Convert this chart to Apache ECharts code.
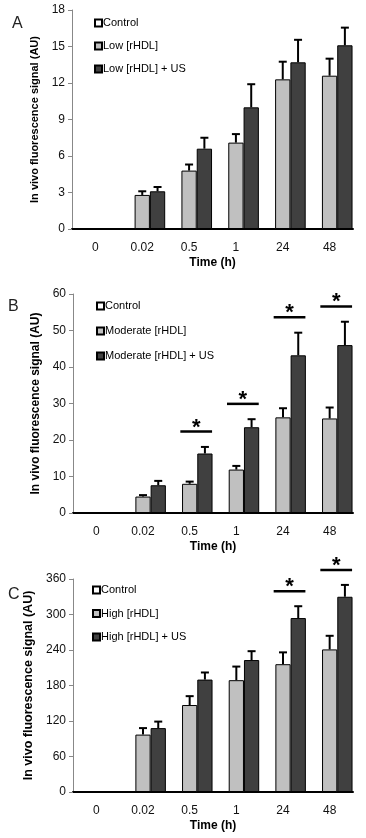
<!DOCTYPE html>
<html>
<head>
<meta charset="utf-8">
<script src="https://cdn.jsdelivr.net/npm/echarts@6/dist/echarts.min.js"></script>
<style>
html,body{margin:0;padding:0;background:#fff;}
#chart{width:366px;height:838px;}
</style>
</head>
<body>
<div id="chart"></div>
<script>
// ---- data ----
const categories = ['0', '0.02', '0.5', '1', '24', '48'];

const controlMean = [0, 0, 0, 0, 0, 0];

// Panel A
const lowMean   = [0, 2.8, 4.8, 7.1, 12.3, 12.6];
const lowErr    = [0, 0.3, 0.5, 0.7, 1.45, 1.4];
const lowUsMean = [0, 3.1, 6.6, 10.0, 13.7, 15.1];
const lowUsErr  = [0, 0.35, 0.9, 1.9, 1.85, 1.45];
const ticksA = { max: 18, interval: 3 };

// Panel B
const modMean   = [0, 4.5, 8.0, 11.9, 26.2, 25.9];
const modErr    = [0, 0.4, 0.6, 1.0, 2.5, 3.0];
const modUsMean = [0, 7.6, 16.3, 23.5, 43.2, 46.0];
const modUsErr  = [0, 1.2, 1.8, 2.2, 6.2, 6.4];
const sigB = ['0.5', '1', '24', '48'];
const ticksB = { max: 60, interval: 10 };

// Panel C
const highMean   = [0, 97, 147, 189, 216, 241];
const highErr    = [0, 11, 15, 23, 20, 23];
const highUsMean = [0, 108, 190, 223, 294, 330];
const highUsErr  = [0, 11, 12, 15, 20, 20];
const sigC = ['24', '48'];
const ticksC = { max: 360, interval: 60 };

// ---- styles ----
const FONT = "'Liberation Sans', Arial, sans-serif";
const LIGHT = '#c0c0c0';
const DARK = '#404040';

function barSeries(name, data, color, idx) {
  return {
    type: 'bar', name: name, data: data,
    xAxisIndex: idx, yAxisIndex: idx,
    barGap: '0%', barCategoryGap: '2%',
    itemStyle: { color: color, borderColor: '#000', borderWidth: 1 },
    emphasis: { disabled: true },
    animation: false
  };
}

function errSeries(mean, err, idx, slot) {
  return {
    type: 'custom', xAxisIndex: idx, yAxisIndex: idx, z: 5,
    silent: true, animation: false, clip: false,
    data: mean.map((m, i) => [i, m, err[i]]),
    renderItem: function (params, api) {
      if (api.value(2) <= 0) return null;
      const band = api.size([1, 0])[0] * 0.98;
      const p0 = api.coord([api.value(0), api.value(1)]);
      const p1 = api.coord([api.value(0), api.value(1) + api.value(2)]);
      const x = p0[0] + slot * band / 3;
      const style = { stroke: '#000', lineWidth: 2 };
      return {
        type: 'group',
        children: [
          { type: 'line', shape: { x1: x, y1: p0[1], x2: x, y2: p1[1] }, style: style },
          { type: 'line', shape: { x1: x - 4, y1: p1[1], x2: x + 4, y2: p1[1] }, style: style }
        ]
      };
    }
  };
}

function sigSeries(sig, usMean, usErr, max, idx) {
  return {
    type: 'custom', xAxisIndex: idx, yAxisIndex: idx, z: 6,
    silent: true, animation: false, clip: false,
    data: sig.map(c => {
      const i = categories.indexOf(c);
      return [i, usMean[i] + usErr[i] + 0.07 * max];
    }),
    renderItem: function (params, api) {
      const band = api.size([1, 0])[0];
      const p = api.coord([api.value(0), api.value(1)]);
      const x1 = p[0] - 0.2 * band, x2 = p[0] + 0.48 * band;
      return {
        type: 'group',
        children: [
          { type: 'line', shape: { x1: x1, y1: p[1], x2: x2, y2: p[1] },
            style: { stroke: '#000', lineWidth: 2.5 } },
          { type: 'text', x: (x1 + x2) / 2, y: p[1] + 7,
            style: { text: '*', fill: '#000', font: 'bold 22px ' + FONT,
                     textAlign: 'center', textVerticalAlign: 'bottom' } }
        ]
      };
    }
  };
}

function xAxis(idx) {
  return {
    type: 'category', gridIndex: idx, data: categories,
    name: 'Time (h)', nameLocation: 'middle', nameGap: 28,
    nameTextStyle: { fontFamily: FONT, fontSize: 12, fontWeight: 'bold', color: '#000' },
    axisLine: { lineStyle: { color: '#000', width: 2 } },
    axisTick: { show: false },
    axisLabel: { fontFamily: FONT, fontSize: 12, color: '#111', margin: 13 },
    splitLine: { show: false }
  };
}

function yAxis(idx, ticks, nameSize, nameGap) {
  return {
    type: 'value', gridIndex: idx, min: 0, max: ticks.max, interval: ticks.interval,
    name: 'In vivo fluorescence signal (AU)', nameLocation: 'middle', nameGap: nameGap,
    nameTextStyle: { fontFamily: FONT, fontSize: nameSize, fontWeight: 'bold', color: '#000' },
    axisLine: { show: true, lineStyle: { color: '#888', width: 1 } },
    axisTick: { show: true, length: 4, lineStyle: { color: '#888' } },
    axisLabel: { fontFamily: FONT, fontSize: 12, color: '#111', margin: 7 },
    splitLine: { show: false }
  };
}

function legend(names, left, top, gap) {
  return {
    data: names, left: left, top: top, orient: 'vertical', padding: 0,
    icon: 'rect', itemWidth: 7, itemHeight: 7, itemGap: gap,
    selectedMode: false,
    textStyle: { fontFamily: FONT, fontSize: 11, color: '#000', padding: [0, 0, 0, -4], lineHeight: 12 }
  };
}

const option = {
  animation: false,
  backgroundColor: '#fff',
  grid: [
    { left: 72, right: 13, top: 10, height: 219 },
    { left: 73, right: 13, top: 294, height: 219 },
    { left: 73, right: 13, top: 579, height: 213 }
  ],
  xAxis: [xAxis(0), xAxis(1), xAxis(2)],
  yAxis: [yAxis(0, ticksA, 11, 27), yAxis(1, ticksB, 12, 27), yAxis(2, ticksC, 12.5, 31)],
  legend: [
    legend(['Control', 'Low [rHDL]', 'Low [rHDL] + US'], 94, 17, 11),
    legend(['Control', 'Moderate [rHDL]', 'Moderate [rHDL] + US'], 96, 300, 13),
    legend(['Control', 'High [rHDL]', 'High [rHDL] + US'], 92, 584, 11.5)
  ],
  graphic: [
    { type: 'text', left: 12, top: 16, style: { text: 'A', font: '16px ' + FONT, fill: '#222' } },
    { type: 'text', left: 8, top: 299, style: { text: 'B', font: '16px ' + FONT, fill: '#222' } },
    { type: 'text', left: 8, top: 587, style: { text: 'C', font: '16px ' + FONT, fill: '#222' } }
  ],
  series: [
    barSeries('Control', controlMean, '#fff', 0),
    barSeries('Low [rHDL]', lowMean, LIGHT, 0),
    barSeries('Low [rHDL] + US', lowUsMean, DARK, 0),
    errSeries(lowMean, lowErr, 0, 0),
    errSeries(lowUsMean, lowUsErr, 0, 1),

    barSeries('Control', controlMean, '#fff', 1),
    barSeries('Moderate [rHDL]', modMean, LIGHT, 1),
    barSeries('Moderate [rHDL] + US', modUsMean, DARK, 1),
    errSeries(modMean, modErr, 1, 0),
    errSeries(modUsMean, modUsErr, 1, 1),
    sigSeries(sigB, modUsMean, modUsErr, ticksB.max, 1),

    barSeries('Control', controlMean, '#fff', 2),
    barSeries('High [rHDL]', highMean, LIGHT, 2),
    barSeries('High [rHDL] + US', highUsMean, DARK, 2),
    errSeries(highMean, highErr, 2, 0),
    errSeries(highUsMean, highUsErr, 2, 1),
    sigSeries(sigC, highUsMean, highUsErr, ticksC.max, 2)
  ]
};

const chart = echarts.init(document.getElementById('chart'), null, { renderer: 'canvas' });
chart.setOption(option);
</script>
</body>
</html>
